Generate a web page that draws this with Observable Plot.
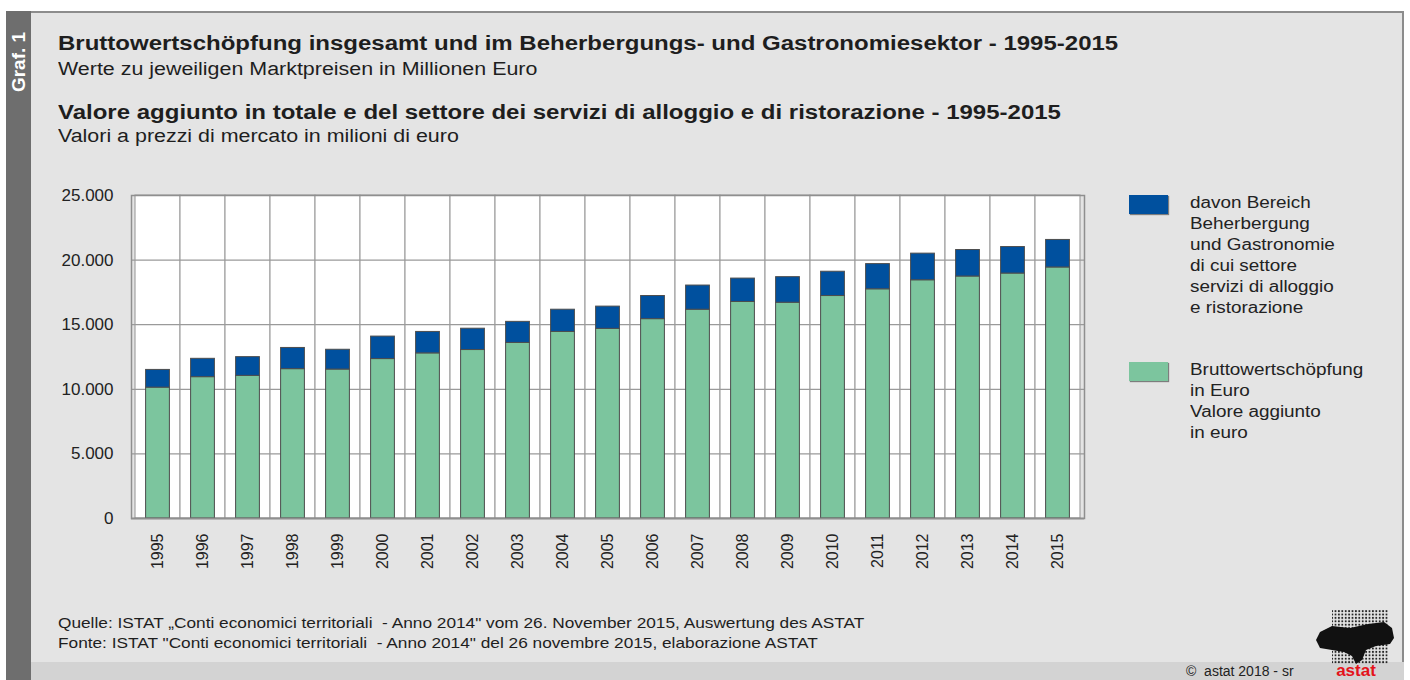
<!DOCTYPE html>
<html>
<head>
<meta charset="utf-8">
<script src="https://cdn.jsdelivr.net/npm/d3@7"></script>
<script src="https://cdn.jsdelivr.net/npm/@observablehq/plot@0.6"></script>
<style>
  html, body { margin: 0; padding: 0; background: #ffffff; }
  body { font-family: "Liberation Sans", Arial, sans-serif; color: #1e1e1e; }
  #page { position: relative; width: 1410px; height: 680px; overflow: hidden; background: #ffffff; }
  #frame { position: absolute; left: 6px; top: 11px; width: 1398px; height: 669px; background: #e4e4e4;
           border-top: 2px solid #8c8c8c; border-right: 2px solid #8c8c8c; box-sizing: border-box; }
  #strip { position: absolute; left: 6px; top: 11px; width: 25px; height: 669px; background: #6e6e6e; }
  #graf { position: absolute; left: 19px; top: 62px; transform: translate(-50%, -50%) rotate(-90deg);
          color: #ffffff; font-weight: bold; font-size: 19px; white-space: nowrap; }
  #bottombar { position: absolute; left: 31px; top: 662px; width: 1373px; height: 18px; background: #d3d3d3; }
  .t { position: absolute; left: 58px; white-space: nowrap; transform-origin: left top; }
  .h { font-weight: bold; font-size: 20px; transform: scaleX(1.2); }
  .s { font-size: 18px; transform: scaleX(1.19); }
  #chart { position: absolute; left: 0px; top: 180px; }
  .leg { position: absolute; left: 1129px; }
  .sw { position: absolute; left: 0; width: 39px; height: 19px; box-shadow: 1px 1px 1px rgba(0,0,0,0.45); }
  .lt { position: absolute; left: 61px; font-size: 16px; line-height: 21px; white-space: nowrap; color: #222;
        transform: scaleX(1.18); transform-origin: left top; }
  .f { position: absolute; left: 58px; font-size: 14.5px; white-space: nowrap; transform: scaleX(1.19); transform-origin: left top; }
  #copy { position: absolute; left: 1186px; top: 662px; font-size: 14px; line-height: 18px; white-space: nowrap; color: #222; }
  #logo { position: absolute; left: 1310px; top: 606px; }
</style>
</head>
<body>
<div id="page">
  <div id="frame"></div>
  <div id="strip"></div>
  <div id="graf">Graf. 1</div>
  <div id="bottombar"></div>

  <div class="t h" style="top:32px">Bruttowertschöpfung insgesamt und im Beherbergungs- und Gastronomiesektor - 1995-2015</div>
  <div class="t s" style="top:59px">Werte zu jeweiligen Marktpreisen in Millionen Euro</div>
  <div class="t h" style="top:101px">Valore aggiunto in totale e del settore dei servizi di alloggio e di ristorazione - 1995-2015</div>
  <div class="t s" style="top:126px">Valori a prezzi di mercato in milioni di euro</div>

  <div id="chart"></div>

  <div class="leg" style="top:195px">
    <div class="sw" style="top:0; background:#00509e"></div>
    <div class="lt" style="top:-3px">davon Bereich<br>Beherbergung<br>und Gastronomie<br>di cui settore<br>servizi di alloggio<br>e ristorazione</div>
  </div>
  <div class="leg" style="top:362px">
    <div class="sw" style="top:0; background:#7cc59e"></div>
    <div class="lt" style="top:-3px">Bruttowertschöpfung<br>in Euro<br>Valore aggiunto<br>in euro</div>
  </div>

  <div class="f" style="top:615px">Quelle: ISTAT „Conti economici territoriali&nbsp; - Anno 2014" vom 26. November 2015, Auswertung des ASTAT</div>
  <div class="f" style="top:635px">Fonte: ISTAT "Conti economici territoriali&nbsp; - Anno 2014" del 26 novembre 2015, elaborazione ASTAT</div>
  <div id="copy">©&nbsp; astat 2018 - sr</div>

  <svg id="logo" width="90" height="74" viewBox="0 0 90 74">
    <defs>
      <pattern id="dots" width="3.4" height="3.4" patternUnits="userSpaceOnUse">
        <circle cx="1.7" cy="1.7" r="1" fill="#222"/>
      </pattern>
    </defs>
    <rect x="22" y="4" width="56" height="54" fill="url(#dots)"/>
    <path d="M10 26 L22 20 L40 22 L58 18 L74 16 L82 22 L84 32 L80 38 L66 40 L56 44 L52 54 L46 58 L42 50 L34 46 L22 44 L10 42 L6 34 Z" fill="#111"/>
    <text x="46" y="70" text-anchor="middle" font-family="Liberation Sans, Arial" font-weight="bold" font-size="17" fill="#e3131b">astat</text>
  </svg>
</div>

<script>
// ---- data (millions of euro) ----
const years = ["1995","1996","1997","1998","1999","2000","2001","2002","2003","2004","2005",
               "2006","2007","2008","2009","2010","2011","2012","2013","2014","2015"];
// green segment (value added, rest of economy)
const wertschoepfung = [10130,10940,11040,11560,11530,12340,12780,13040,13590,14440,14680,
                        15430,16160,16760,16700,17220,17740,18440,18730,18960,19430];
// blue segment (accommodation & food services)
const beherbergung = [1370,1420,1450,1640,1530,1740,1660,1650,1630,1720,1720,
                      1790,1870,1810,1980,1880,1950,2060,2050,2050,2130];
const yTicks = [0, 5000, 10000, 15000, 20000, 25000];
const seriesNames = ["Bruttowertschöpfung", "Beherbergung und Gastronomie"];
const seriesColors = ["#7cc59e", "#00509e"];

const rows = years.flatMap((y, i) => [
  {year: y, serie: seriesNames[0], value: wertschoepfung[i]},
  {year: y, serie: seriesNames[1], value: beherbergung[i]}
]);

const fmt = d => d3.format(",")(d).replace(/,/g, ".");

const chart = Plot.plot({
  width: 1100,
  height: 430,
  marginTop: 15,
  marginBottom: 92,
  marginLeft: 131,
  marginRight: 16,
  style: {background: "transparent", fontFamily: "Liberation Sans, Arial, sans-serif", fontSize: "17px", color: "#222"},
  x: {type: "band", domain: years, padding: 0, label: null},
  y: {domain: [0, 25000], label: null},
  color: {domain: seriesNames, range: seriesColors},
  marks: [
    Plot.cell(years, {x: d => d, fill: "#ffffff", stroke: "#a3a3a3", strokeWidth: 1.2}),
    Plot.gridY(yTicks, {stroke: "#9a9a9a", strokeOpacity: 1, strokeWidth: 1.2}),
    Plot.barY(rows, Plot.stackY({x: "year", y: "value", fill: "serie", order: seriesNames,
      stroke: "#4d4d4d", strokeWidth: 1, insetLeft: 10.6, insetRight: 10.6})),
    Plot.ruleY([0], {stroke: "#6a6a6a", strokeWidth: 1.5}),
    Plot.frame({stroke: "#8f8f8f", strokeWidth: 1.5}),
    Plot.axisY(yTicks, {tickFormat: fmt, tickSize: 0, tickPadding: 18, fontSize: 17, label: null}),
    Plot.axisX(years, {tickSize: 0, tickRotate: -90, tickPadding: 15, fontSize: 16, label: null})
  ]
});
document.getElementById("chart").appendChild(chart);
</script>
</body>
</html>
